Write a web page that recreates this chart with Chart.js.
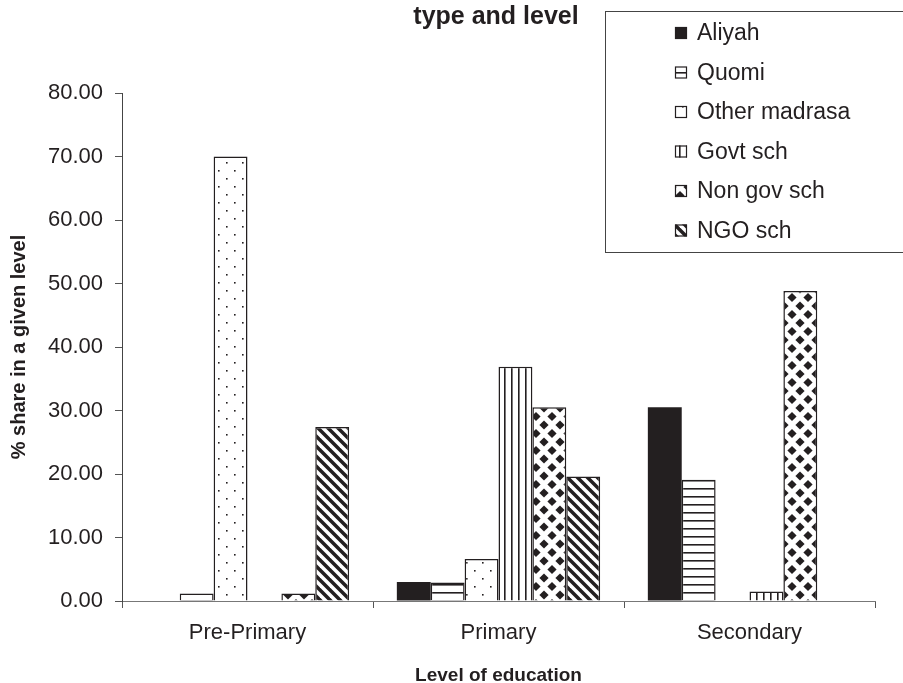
<!DOCTYPE html>
<html>
<head>
<meta charset="utf-8">
<script src="https://cdn.jsdelivr.net/npm/chart.js@4.4.1/dist/chart.umd.min.js"></script>
<style>
  html, body { margin: 0; padding: 0; background: #fff; }
  #wrap { width: 903px; height: 683px; }
</style>
</head>
<body>
<div id="wrap"><canvas id="statsChart" width="903" height="683"></canvas></div>
<script>
// data
const levels = ['Pre-Primary', 'Primary', 'Secondary'];
const schoolTypes = ['Aliyah', 'Quomi', 'Other madrasa', 'Govt sch', 'Non gov sch', 'NGO sch'];
const aliyah = [0, 3.0, 30.5];
const quomi = [1.2, 2.9, 19.1];
const otherMadrasa = [70.0, 6.6, 0];
const govtSch = [0, 36.9, 1.5];
const nonGovSch = [1.2, 30.5, 48.8];
const ngoSch = [27.4, 19.6, 0];
const yTicks = [0, 10, 20, 30, 40, 50, 60, 70, 80];

const INK = '#231f20';
const FONT = '"Liberation Sans", Arial, sans-serif';

// hatch patterns, one per school type
function makePattern(w, h, draw) {
  const c = document.createElement('canvas');
  c.width = w; c.height = h;
  const g = c.getContext('2d');
  g.fillStyle = '#fff';
  g.fillRect(0, 0, w, h);
  g.fillStyle = INK;
  g.strokeStyle = INK;
  draw(g, w, h);
  return document.createElement('canvas').getContext('2d').createPattern(c, 'repeat');
}

const fills = [
  INK,
  makePattern(8, 8, function (g) { g.fillRect(0, 0, 8, 1.6); }),
  makePattern(16, 16, function (g) {
    g.fillRect(2, 2, 1.6, 1.6);
    g.fillRect(10, 10, 1.6, 1.6);
  }),
  makePattern(7, 7, function (g) { g.fillRect(0, 0, 1.6, 7); }),
  makePattern(16, 17, function (g) {
    const pts = [[0, 0], [16, 0], [0, 17], [16, 17], [8, 8.5]];
    pts.forEach(function (p) {
      g.beginPath();
      g.moveTo(p[0], p[1] - 4.6);
      g.lineTo(p[0] + 4.6, p[1]);
      g.lineTo(p[0], p[1] + 4.6);
      g.lineTo(p[0] - 4.6, p[1]);
      g.closePath();
      g.fill();
    });
  }),
  makePattern(10, 10, function (g) {
    g.lineWidth = 3.5;
    [-10, 0, 10].forEach(function (k) {
      g.beginPath();
      g.moveTo(k - 2, -2);
      g.lineTo(k + 12, 12);
      g.stroke();
    });
  })
];

const seriesValues = [aliyah, quomi, otherMadrasa, govtSch, nonGovSch, ngoSch];

const datasets = schoolTypes.map(function (name, i) {
  return {
    label: name,
    data: seriesValues[i],
    backgroundColor: fills[i],
    borderColor: INK,
    borderWidth: i === 0 ? 0 : 1.5,
    barPercentage: 1.0,
    categoryPercentage: 0.81
  };
});

// title + boxed legend drawn by hand (legend floats over the plot)
const decorPlugin = {
  id: 'decor',
  afterDraw: function (chart) {
    const ctx = chart.ctx;
    ctx.save();
    ctx.fillStyle = INK;
    ctx.font = 'bold 25px ' + FONT;
    ctx.textAlign = 'center';
    ctx.textBaseline = 'middle';
    ctx.fillText('type and level', 496, 17);

    // legend box
    ctx.fillStyle = '#fff';
    ctx.fillRect(605.5, 11.5, 310, 241);
    ctx.strokeStyle = '#444';
    ctx.lineWidth = 1;
    ctx.strokeRect(605.5, 11.5, 310, 241);

    ctx.font = '23px ' + FONT;
    ctx.textAlign = 'left';
    chart.data.datasets.forEach(function (ds, i) {
      const y = 33 + i * 39.5;
      ctx.fillStyle = ds.backgroundColor;
      ctx.fillRect(675, y - 6, 12, 12);
      ctx.strokeStyle = INK;
      ctx.lineWidth = 1.2;
      ctx.strokeRect(675.5, y - 5.5, 11, 11);
      ctx.fillStyle = INK;
      ctx.fillText(ds.label, 697, y + 1);
    });
    ctx.restore();
  }
};

const ctx = document.getElementById('statsChart').getContext('2d');
const chart = new Chart(ctx, {
  type: 'bar',
  data: { labels: levels, datasets: datasets },
  options: {
    responsive: false,
    animation: false,
    layout: { padding: { top: 93, right: 28, left: 0, bottom: 0 } },
    plugins: {
      legend: { display: false },
      title: { display: false },
      tooltip: { enabled: false }
    },
    scales: {
      x: {
        afterFit: function (scale) { scale.height = 82; },
        grid: { offset: true, drawOnChartArea: false, tickLength: 7, color: '#555' },
        border: { color: '#777', width: 1 },
        ticks: { color: INK, font: { family: FONT, size: 22 }, padding: 12 },
        title: {
          display: true,
          text: 'Level of education',
          color: INK,
          font: { family: FONT, size: 19, weight: 'bold' },
          padding: { top: 4, bottom: -4 }
        }
      },
      y: {
        min: 0,
        max: 80,
        afterFit: function (scale) { scale.width = 122; },
        afterBuildTicks: function (scale) {
          scale.ticks = yTicks.map(function (v) { return { value: v }; });
        },
        grid: { drawOnChartArea: false, tickLength: 7, color: '#555' },
        border: { color: '#444', width: 1 },
        ticks: {
          color: INK,
          font: { family: FONT, size: 22 },
          padding: 12,
          callback: function (v) { return Number(v).toFixed(2); }
        },
        title: {
          display: true,
          text: '% share in a given level',
          color: INK,
          font: { family: FONT, size: 20, weight: 'bold' },
          padding: { top: 7, bottom: 0 }
        }
      }
    }
  },
  plugins: [decorPlugin]
});
</script>
</body>
</html>
